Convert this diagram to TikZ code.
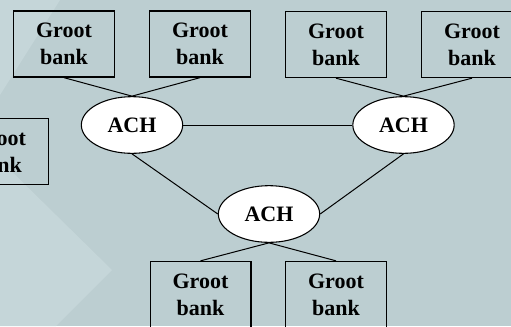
\documentclass[tikz,border=0pt]{standalone}
\usepackage{xcolor}
\usepackage{fontspec}
\setmainfont{Liberation Serif}
\usepackage{tikz}
\usetikzlibrary{shapes,positioning}

\definecolor{slidebg}{RGB}{188,206,209}
\definecolor{slidelight}{RGB}{197,214,217}

\tikzset{
    bank/.style={draw, line width=1pt, minimum width=75.5pt, minimum height=49.5pt, inner sep=0pt, align=center, font=\bfseries\fontsize{16.5}{20}\selectfont},
    ach/.style={draw, ellipse, fill=white, line width=0.8pt, minimum width=76pt, minimum height=42.5pt, inner sep=0pt, font=\bfseries\fontsize{16.5}{20}\selectfont},
    link/.style={line width=0.75pt}
}

\begin{document}
\begin{tikzpicture}[x=0.75pt, y=-0.75pt]
    \useasboundingbox (0,0) rectangle (511,326);
    \clip (0,0) rectangle (511,326);
    % slide background
    \fill[slidebg] (0,0) rectangle (511,326);
    \fill[slidelight] (0,0) -- (60,0) -- (0,95) -- cycle;
    \fill[slidelight] (0,160) -- (112,270) -- (56,326) -- (0,326) -- cycle;

    % banks
    \node (bank1) at (64,44) [bank] {Groot\\bank};
    \node (bank2) at (200,44) [bank] {Groot\\bank};
    \node (bank3) at (336,44.5) [bank] {Groot\\bank};
    \node (bank4) at (472,44.5) [bank] {Groot\\bank};
    \node (bank0) at (-2,151.5) [bank] {Groot\\bank};
    \node (bank5) at (200.5,294.5) [bank] {Groot\\bank};
    \node (bank6) at (336,294.5) [bank] {Groot\\bank};

    % clearing houses
    \node (ach1) at (132,125) [ach] {ACH};
    \node (ach2) at (403.5,125) [ach] {ACH};
    \node (ach3) at (269,214) [ach] {ACH};

    \draw[link] (bank1.south) -- (ach1.north) -- (bank2.south);
    \draw[link] (bank3.south) -- (ach2.north) -- (bank4.south);
    \draw[link] (ach1.east) -- (ach2.west);
    \draw[link] (ach1.south) -- (ach3.west);
    \draw[link] (ach2.south) -- (ach3.east);
    \draw[link] (bank5.north) -- (ach3.south) -- (bank6.north);
\end{tikzpicture}
\end{document}
